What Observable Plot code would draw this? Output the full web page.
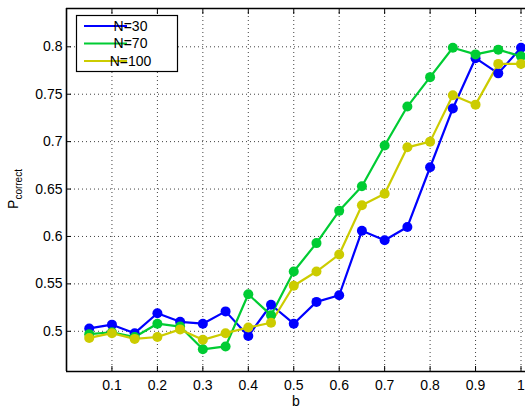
<!DOCTYPE html>
<html><head><meta charset="utf-8">
<script src="https://cdn.jsdelivr.net/npm/d3@7"></script>
<script src="https://cdn.jsdelivr.net/npm/@observablehq/plot@0.6"></script>
<style>html,body{margin:0;padding:0;background:#fff;overflow:hidden} svg{display:block}</style>
</head><body><div id="chart"></div>
<script>
const bValues = [0.05,0.1,0.15,0.2,0.25,0.3,0.35,0.4,0.45,0.5,0.55,0.6,0.65,0.7,0.75,0.8,0.85,0.9,0.95,1.0];
const n30  = [0.503,0.507,0.498,0.519,0.510,0.508,0.521,0.495,0.528,0.508,0.531,0.538,0.606,0.596,0.610,0.673,0.735,0.788,0.772,0.799];
const n70  = [0.497,0.499,0.494,0.508,0.505,0.481,0.484,0.539,0.517,0.563,0.593,0.627,0.653,0.696,0.737,0.768,0.799,0.792,0.797,0.790];
const n100 = [0.493,0.498,0.492,0.494,0.502,0.491,0.498,0.504,0.509,0.548,0.563,0.581,0.633,0.645,0.694,0.700,0.749,0.739,0.782,0.782];
const seriesNames = ["N=30","N=70","N=100"];
const seriesColors = ["#0000ff","#00cc33","#cccc00"];
const xTicks = [0.1,0.2,0.3,0.4,0.5,0.6,0.7,0.8,0.9,1];
const yTicks = [0.5,0.55,0.6,0.65,0.7,0.75,0.8];
const xDomain = [0, 1.0099];
const yDomain = [0.4576, 0.8404];
const xLabel = "b";
const yLabelMain = "P";
const yLabelSub = "correct";

const data = [];
[n30, n70, n100].forEach((vals, i) => vals.forEach((v, j) => data.push({b: bValues[j], p: v, series: seriesNames[i]})));

const font = "'Liberation Sans', Arial, Helvetica, sans-serif";
const gridStyle = {stroke: "#000", strokeOpacity: 0.75, strokeDasharray: "1,3", strokeWidth: 1};

const chart = Plot.plot({
  width: 525, height: 408,
  marginLeft: 66, marginRight: 0, marginTop: 8, marginBottom: 37,
  style: {fontFamily: font, fontSize: "14px", background: "#fff", color: "#000", overflow: "visible"},
  x: {domain: xDomain},
  y: {domain: yDomain},
  color: {domain: seriesNames, range: seriesColors},
  marks: [
    Plot.gridX(xTicks, gridStyle),
    Plot.gridY(yTicks, gridStyle),
    Plot.axisX(xTicks, {anchor: "bottom", tickSize: 0, tickPadding: 9, label: null, tickFormat: d => String(d)}),
    Plot.axisX(xTicks, {anchor: "bottom", tickSize: -5, tickFormat: () => "", label: null}),
    Plot.axisX(xTicks, {anchor: "top", tickSize: -5, tickFormat: () => "", label: null}),
    Plot.axisY(yTicks, {anchor: "left", tickSize: 0, tickPadding: 4, label: null, tickFormat: d => String(d)}),
    Plot.axisY(yTicks, {anchor: "left", tickSize: -5, tickFormat: () => "", label: null}),
    Plot.ruleX([xDomain[0]], {stroke: "#000", strokeWidth: 1.6}),
    Plot.ruleY([yDomain[0]], {stroke: "#000", strokeWidth: 1.6}),
    Plot.ruleY([yDomain[1]], {stroke: "#000", strokeWidth: 1.6}),
    Plot.line(data, {x: "b", y: "p", z: "series", stroke: "series", strokeWidth: 2.2}),
    Plot.dot(data, {x: "b", y: "p", fill: "series", r: 5}),
    Plot.text([xLabel], {frameAnchor: "bottom", dy: 30, text: d => d, fontSize: 14, lineAnchor: "middle"})
  ]
});

const svg = d3.select(chart);
// y-axis label with subscript
const yl = svg.append("text")
  .attr("transform", "translate(18,189) rotate(-90)")
  .attr("text-anchor", "middle")
  .attr("font-family", font)
  .attr("fill", "#000");
yl.append("tspan").attr("font-size", 14).text(yLabelMain);
yl.append("tspan").attr("font-size", 10).attr("dy", 4).text(yLabelSub);

// legend
const lg = svg.append("g");
lg.append("rect").attr("x", 76.5).attr("y", 15.5).attr("width", 101).attr("height", 56)
  .attr("fill", "#fff").attr("stroke", "#000").attr("stroke-width", 1.2);
seriesNames.forEach((name, i) => {
  const y = 26 + i * 17.5;
  lg.append("line").attr("x1", 84).attr("x2", 127).attr("y1", y).attr("y2", y)
    .attr("stroke", seriesColors[i]).attr("stroke-width", 2.2);
  lg.append("text").attr("x", 130.5).attr("y", y).attr("dy", "0.35em")
    .attr("font-family", font).attr("font-size", 14).attr("fill", "#000").text(name);
});

document.getElementById("chart").appendChild(chart);
</script>
</body></html>
